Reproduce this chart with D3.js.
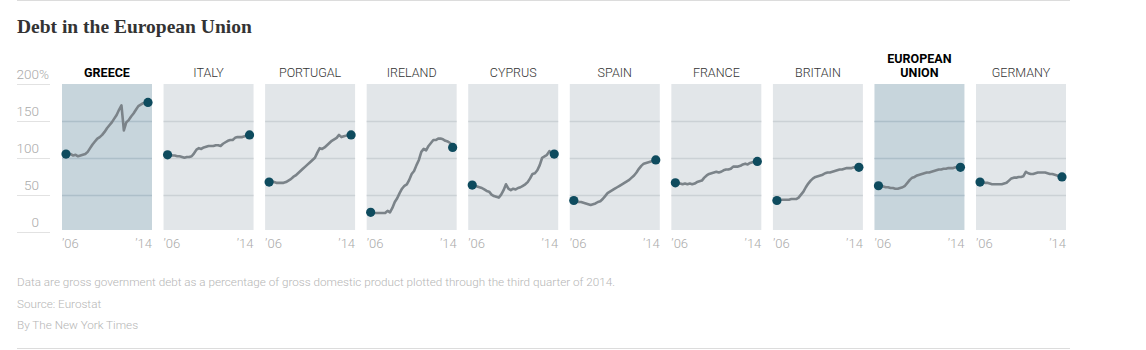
<!DOCTYPE html>
<html>
<head>
<meta charset="utf-8">
<script src="https://cdn.jsdelivr.net/npm/d3@7"></script>
<style>
	body { margin: 0; background: #fff; }
	svg { display: block; }
</style>
</head>
<body>
<div id="chart"></div>
<script>
// quarterly debt as % of GDP, 2006 Q1 through 2014 Q3
const greece   = [105,104,105,103, 104,102,103,104, 105,108,113,118, 122,126,128,131, 135,140,144,148, 153,158,165,171, 137,148,151,156, 160,165,170,172, 174,175,175];
const italy    = [104,104,103,103, 102,102,101,100, 101,101,102,106, 111,113,112,114, 115,116,116,116, 117,117,116,119, 121,123,124,124, 127,128,128,128, 129,131,131];
const portugal = [67,68,67,66, 66,66,66,67, 69,71,74,76, 79,82,85,88, 91,94,97,100, 107,113,112,114, 117,120,123,125, 127,131,128,129, 130,131,131];
const ireland  = [26,25,25,25, 25,25,25,28, 26,32,40,45, 52,58,62,64, 70,78,82,90, 97,108,112,110, 116,120,124,124, 126,126,125,123, 122,120,114];
const cyprus   = [63,62,61,60, 59,57,55,54, 50,48,47,46, 50,56,64,58, 56,58,57,59, 60,62,64,67, 72,78,79,83, 90,100,102,104, 109,106,105];
const spain    = [42,41,40,40, 39,38,37,36, 37,38,40,41, 44,48,52,54, 56,58,60,62, 64,66,68,70, 73,76,80,85, 89,92,93,94, 95,96,97];
const france   = [66,65,65,64, 65,64,65,64, 65,67,68,69, 73,76,78,79, 80,81,80,81, 83,84,84,85, 88,88,88,89, 91,92,91,93, 94,95,95];
const britain  = [42,43,43,43, 43,43,44,44, 44,46,50,54, 60,65,69,72, 74,75,76,77, 79,80,80,81, 82,83,84,84, 85,86,86,86, 87,87,87];
const eu       = [62,62,61,60, 60,59,59,58, 58,59,60,62, 66,70,73,74, 76,77,78,79, 80,80,81,82, 83,84,84,85, 85,86,86,86, 87,87,87];
const germany  = [67,67,66,66, 65,64,64,64, 64,64,65,66, 69,72,73,73, 74,74,75,81, 79,78,78,79, 80,80,80,80, 79,78,78,77, 76,75,74];

const countries = [
	{ name: ['GREECE'], values: greece, highlight: true },
	{ name: ['ITALY'], values: italy },
	{ name: ['PORTUGAL'], values: portugal },
	{ name: ['IRELAND'], values: ireland },
	{ name: ['CYPRUS'], values: cyprus },
	{ name: ['SPAIN'], values: spain },
	{ name: ['FRANCE'], values: france },
	{ name: ['BRITAIN'], values: britain },
	{ name: ['EUROPEAN', 'UNION'], values: eu, highlight: true },
	{ name: ['GERMANY'], values: germany }
];

const yTicks = [0, 50, 100, 150, 200];
const gridTicks = [50, 100, 150];
const xTickLabels = ['\u201906', '\u201914'];

const notes = [
	'Data are gross government debt as a percentage of gross domestic product plotted through the third quarter of 2014.',
	'Source: Eurostat',
	'By The New York Times'
];

const svg = d3.select('#chart')
	.append('svg')
	.attr('width', 1146)
	.attr('height', 350);

svg.append('line')
	.attr('x1', 17).attr('x2', 1070)
	.attr('y1', 0.5).attr('y2', 0.5)
	.attr('stroke', '#dcdcdc');

svg.append('line')
	.attr('x1', 17).attr('x2', 1070)
	.attr('y1', 348.5).attr('y2', 348.5)
	.attr('stroke', '#dcdcdc');

svg.append('text')
	.attr('x', 17)
	.attr('y', 33)
	.attr('font-family', 'Liberation Serif, serif')
	.attr('font-weight', 'bold')
	.attr('font-size', '19.5px')
	.attr('fill', '#333')
	.text('Debt in the European Union');

const y = d3.scaleLinear().domain([0, 200]).range([231.5, 84]);

const panel = d3.scaleBand()
	.domain(countries.map((d, i) => i))
	.range([62, 1066])
	.paddingInner(0.114);

const pw = panel.bandwidth();

const x = d3.scaleLinear().domain([2006, 2014.5]).range([4, pw - 4]);

// y axis labels on the left, the % sign hangs past the numbers
const yAxis = svg.append('g');
yAxis.selectAll('line')
	.data(yTicks)
	.enter()
	.append('line')
	.attr('x1', 17).attr('x2', 50)
	.attr('y1', (d) => Math.round(y(d)) + 0.5)
	.attr('y2', (d) => Math.round(y(d)) + 0.5)
	.attr('stroke', '#e2e2e2');
yAxis.selectAll('.num')
	.data(yTicks)
	.enter()
	.append('text')
	.attr('class', 'num')
	.attr('x', 39)
	.attr('y', (d) => y(d) - 5)
	.attr('text-anchor', 'end')
	.attr('font-family', 'Roboto, sans-serif')
	.attr('font-weight', 300)
	.attr('font-size', '13.5px')
	.attr('fill', '#aaa')
	.text((d) => d);
yAxis.append('text')
	.attr('x', 39)
	.attr('y', y(200) - 5)
	.attr('font-family', 'Roboto, sans-serif')
	.attr('font-weight', 300)
	.attr('font-size', '13.5px')
	.attr('fill', '#aaa')
	.text('%');

const line = d3.line()
	.x((d, i) => x(2006 + i / 4))
	.y((d) => y(d));

const g = svg.selectAll('.panel')
	.data(countries)
	.enter()
	.append('g')
	.attr('class', 'panel')
	.attr('transform', (d, i) => `translate(${panel(i)},0)`);

g.append('rect')
	.attr('x', 0)
	.attr('y', y(200))
	.attr('width', pw)
	.attr('height', 230 - y(200))
	.attr('fill', (d) => (d.highlight ? '#c7d5dc' : '#e2e6e9'));

g.each(function (d) {
	d3.select(this).selectAll('.grid')
		.data(gridTicks)
		.enter()
		.append('line')
		.attr('class', 'grid')
		.attr('x1', 0).attr('x2', pw)
		.attr('y1', (t) => Math.round(y(t)) + 0.5)
		.attr('y2', (t) => Math.round(y(t)) + 0.5)
		.attr('stroke', d.highlight ? '#adbfc9' : '#cbd1d5')
		.attr('stroke-width', 1.5);
});

g.append('path')
	.attr('d', (d) => line(d.values))
	.attr('fill', 'none')
	.attr('stroke', '#7b8389')
	.attr('stroke-width', 2.6)
	.attr('stroke-linejoin', 'round');

g.append('circle')
	.attr('cx', x(2006))
	.attr('cy', (d) => y(d.values[0]))
	.attr('r', 4.6)
	.attr('fill', '#0e4b5e');

g.append('circle')
	.attr('cx', (d) => x(2006 + (d.values.length - 1) / 4))
	.attr('cy', (d) => y(d.values[d.values.length - 1]))
	.attr('r', 4.6)
	.attr('fill', '#0e4b5e');

g.append('text')
	.attr('x', pw / 2)
	.attr('y', (d) => 77 - (d.name.length - 1) * 14)
	.attr('text-anchor', 'middle')
	.attr('font-family', 'Roboto, sans-serif')
	.attr('font-weight', (d) => (d.highlight ? 'bold' : 300))
	.attr('font-size', '12.5px')
	.attr('fill', (d) => (d.highlight ? '#000' : '#333'))
	.selectAll('tspan')
	.data((d) => d.name)
	.enter()
	.append('tspan')
	.attr('x', pw / 2)
	.attr('dy', (d, i) => (i === 0 ? 0 : 14))
	.text((d) => d);

g.append('text')
	.attr('x', 0)
	.attr('y', 248)
	.attr('font-family', 'Roboto, sans-serif')
	.attr('font-weight', 300)
	.attr('font-size', '13px')
	.attr('fill', '#aaa')
	.text(xTickLabels[0]);

g.append('text')
	.attr('x', pw)
	.attr('y', 248)
	.attr('text-anchor', 'end')
	.attr('font-family', 'Roboto, sans-serif')
	.attr('font-weight', 300)
	.attr('font-size', '13px')
	.attr('fill', '#aaa')
	.text(xTickLabels[1]);

svg.selectAll('.note')
	.data(notes)
	.enter()
	.append('text')
	.attr('class', 'note')
	.attr('x', 17)
	.attr('y', (d, i) => 286 + i * 21.5)
	.attr('font-family', 'Roboto, sans-serif')
	.attr('font-weight', 300)
	.attr('font-size', '11.7px')
	.attr('fill', '#b5b5b5')
	.text((d) => d);
</script>
</body>
</html>
